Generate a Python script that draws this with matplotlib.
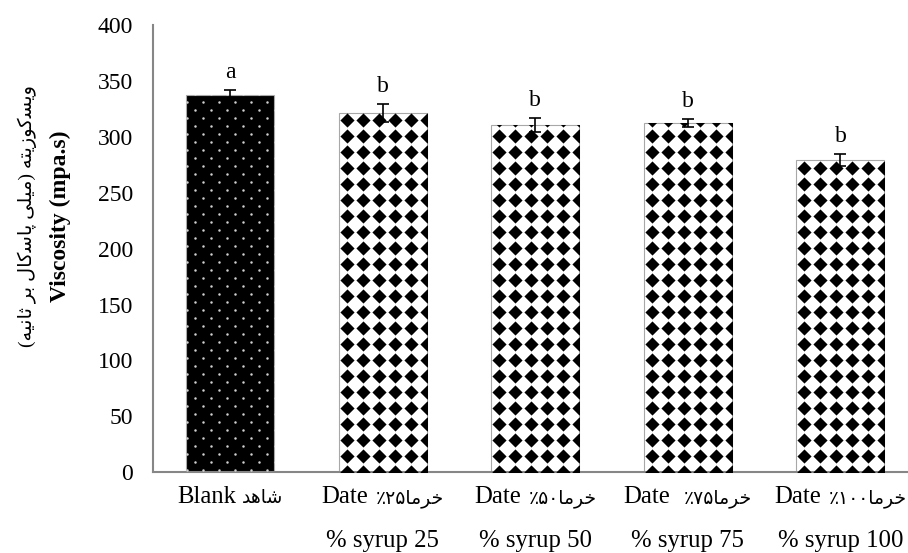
import numpy as np
import matplotlib
matplotlib.use("Agg")
import matplotlib.pyplot as plt

# ---------------- data ----------------
cat_en = ["Blank", "Date", "Date", "Date", "Date"]
cat_fa = [
    "\ufeaa\ufeeb\ufe8e\ufeb7",
    "\u066a\u06f2\u06f5\ufe8e\ufee3\ufeae\ufea7",
    "\u066a\u06f5\u06f0\ufe8e\ufee3\ufeae\ufea7",
    "\u066a\u06f7\u06f5\ufe8e\ufee3\ufeae\ufea7",
    "\u066a\u06f1\u06f0\u06f0\ufe8e\ufee3\ufeae\ufea7",
]
cat_line2 = ["", "% syrup 25", "% syrup 50", "% syrup 75", "% syrup 100"]
viscosity = [337.5, 321.0, 310.6, 312.2, 279.3]
errors = [4.8, 8.0, 6.4, 3.6, 5.4]
letters = ["a", "b", "b", "b", "b"]
yticks = [0, 50, 100, 150, 200, 250, 300, 350, 400]

# Persian y-label (visual order, presentation forms)
ylabel_fa = ("(\ufeea\ufbff\ufee7\ufe8e\ufe9b \ufeae\ufe91 \ufedd\ufe8e\ufb90\ufeb3\ufe8e\ufb58 "
             "\ufbfd\ufee0\ufbff\ufee3) \ufeea\ufe98\ufbfe\ufeaf\ufeee\ufb90\ufeb4\ufbfe\ufeed")
ylabel_en = "Viscosity (mpa.s)"

FAM = ["Liberation Serif", "DejaVu Sans"]
plt.rcParams["font.family"] = FAM

W, H = 908, 553
fig = plt.figure(figsize=(W / 100, H / 100), dpi=100)
ax = fig.add_axes([152.7 / W, (H - 472.3) / H, (W - 152.7) / W, (472.3 - 25) / H])

x = np.arange(len(cat_en))
ax.set_xlim(-0.507, 4.443)
ax.set_ylim(0, 400)

bar_w = 0.577
bars = ax.bar(x, viscosity, width=bar_w, color=["black", "white", "white", "white", "white"],
              edgecolor="#a8a8a8", linewidth=0.8, zorder=2)

# fill patterns (pixel-based lattice clipped to each bar)
inv = ax.transData.inverted()
for i, b in enumerate(bars):
    (x0, y0), (x1, y1) = ax.transData.transform([(b.get_x(), 0), (b.get_x() + b.get_width(), b.get_height())])
    pts = []
    if i == 0:
        ys = np.arange(y0 + 2, y1 + 8, 8.0)
        for n, yy in enumerate(ys):
            start = x0 + 1 + (8 if n % 2 else 0)
            for xx in np.arange(start, x1 + 1, 16.0):
                pts.append((xx, yy))
        pts = inv.transform(np.array(pts))
        sc = ax.scatter(pts[:, 0], pts[:, 1], s=3.2, marker="o", color="#d0d0d0",
                        linewidths=0, zorder=3)
    else:
        ys = np.arange(y0, y1 + 16, 16.0)
        for yy in ys:
            for xx in np.arange(x0 + 8, x1 + 9, 16.0):
                pts.append((xx, yy))
        pts = inv.transform(np.array(pts))
        sc = ax.scatter(pts[:, 0], pts[:, 1], s=52, marker="D", color="black",
                        linewidths=0, zorder=3)
    sc.set_clip_path(b)

ax.errorbar(x, viscosity, yerr=errors, fmt="none", ecolor="black", elinewidth=1.2,
            capsize=4.3, capthick=1.2, zorder=5)

for xi, v, e, t in zip(x, viscosity, errors, letters):
    ax.annotate(t, (xi, v + e), xytext=(0, 5), textcoords="offset points",
                ha="center", va="bottom", fontsize=17, family=FAM)

for s in ["top", "right"]:
    ax.spines[s].set_visible(False)
for s in ["left", "bottom"]:
    ax.spines[s].set_color("#868686")
    ax.spines[s].set_linewidth(1.5)

ax.set_yticks(yticks)
ax.set_yticklabels([str(v) for v in yticks], fontsize=17)
ax.set_xticks(x)
ax.set_xticklabels([""] * len(x))
ax.tick_params(axis="y", length=0, pad=14)
ax.tick_params(axis="x", length=0)

# two-part category labels (Latin + Persian), two lines
renderer = fig.canvas.get_renderer()
yb1 = 1 - 503 / H
yb2 = 1 - 547 / H
gaps = [5, 8, 8, 14, 8]
for xi, en, fa, l2, gp in zip(x, cat_en, cat_fa, cat_line2, gaps):
    xc = ax.transData.transform((xi, 0))[0]
    t1 = fig.text(0, yb1, en, fontsize=17.8, family=FAM, ha="left", va="baseline")
    t2 = fig.text(0, yb1, fa, fontsize=13.5, family=FAM, ha="left", va="baseline")
    w1 = t1.get_window_extent(renderer).width
    w2 = t2.get_window_extent(renderer).width
    left = xc - (w1 + gp + w2) / 2
    t1.set_x(left / W)
    t2.set_x((left + w1 + gp) / W)
    if l2:
        fig.text(xc / W, yb2, l2, fontsize=17.8, family=FAM, ha="center", va="baseline")

fig.text(60 / W, 1 - 216 / H, ylabel_en, rotation=90, ha="center", va="center",
         fontsize=17, fontweight="bold", family=FAM)
fig.text(27 / W, 1 - 216 / H, ylabel_fa, rotation=90, ha="center", va="center",
         fontsize=14, family=FAM)

fig.savefig("out.png", dpi=100)
